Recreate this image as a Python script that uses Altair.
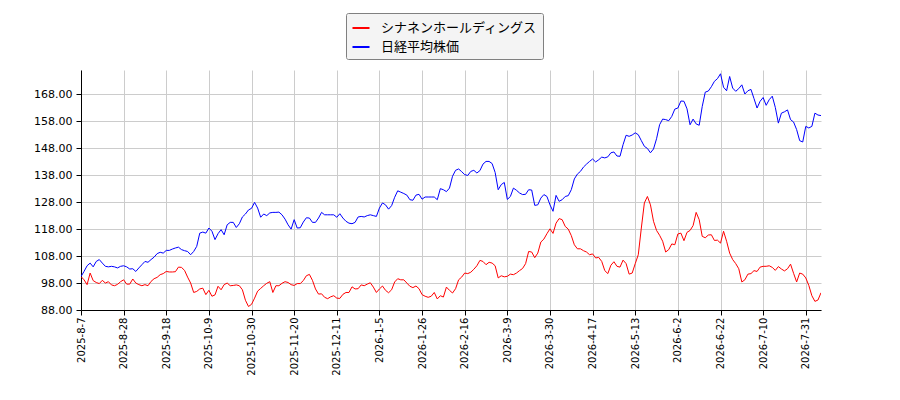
import altair as alt
import pandas as pd

# -----------------------------
# DATA
# -----------------------------
series_names = ["シナネンホールディングス", "日経平均株価"]
series_colors = ["#ff0000", "#0000ff"]

tick_labels = [
    "2025-8-7", "2025-8-28", "2025-9-18", "2025-10-9", "2025-10-30",
    "2025-11-20", "2025-12-11", "2026-1-5", "2026-1-26", "2026-2-16",
    "2026-3-9", "2026-3-30", "2026-4-17", "2026-5-13", "2026-6-2",
    "2026-6-22", "2026-7-10", "2026-7-31",
]
label_step = 14  # trading days between tick labels

y_ticks = [88, 98, 108, 118, 128, 138, 148, 158, 168]

stock = [
    100.4, 99.2, 97.4, 101.7, 98.9, 98.2, 97.8, 99.0, 98.0, 98.5,
    97.3, 97.0, 97.5, 98.5, 99.2, 97.6, 97.6, 99.5, 98.0, 97.4,
    97.0, 97.4, 97.0, 98.6, 99.6, 100.1, 101.1, 101.5, 102.3, 102.1,
    102.1, 102.2, 103.9, 103.8, 102.7, 100.2, 98.0, 94.5, 94.9, 95.8,
    96.1, 93.7, 95.3, 93.1, 93.6, 96.8, 95.5, 97.4, 98.0, 97.0,
    97.1, 97.3, 97.0, 95.5, 91.6, 89.3, 90.1, 92.4, 95.0, 96.0,
    97.0, 97.9, 98.5, 94.5, 97.0, 97.0, 97.9, 98.5, 98.2, 97.4,
    97.1, 97.8, 97.8, 98.9, 100.7, 101.2, 99.0, 95.8, 93.9, 94.0,
    92.7, 92.2, 92.9, 93.3, 92.4, 92.3, 93.8, 94.5, 94.5, 96.6,
    95.8, 95.9, 97.3, 97.0, 97.6, 98.1, 96.5, 94.5, 95.8, 96.9,
    95.3, 94.4, 95.5, 98.4, 99.6, 99.2, 99.2, 98.0, 96.8, 96.3,
    96.9, 95.9, 93.7, 93.1, 92.7, 93.1, 94.5, 92.1, 93.3, 92.8,
    96.5, 95.3, 94.3, 95.9, 99.2, 100.2, 101.7, 101.5, 102.0, 103.1,
    104.4, 106.4, 106.0, 104.8, 105.7, 105.4, 104.4, 99.9, 100.7, 100.3,
    100.5, 101.3, 101.1, 101.7, 102.6, 103.4, 105.2, 109.7, 109.5, 107.4,
    109.1, 113.2, 114.3, 116.3, 118.1, 116.4, 120.2, 121.9, 121.5, 119.0,
    118.0, 115.6, 112.2, 110.7, 110.7, 110.0, 109.5, 108.5, 108.8, 107.3,
    107.5, 106.0, 102.6, 101.5, 104.6, 105.9, 104.2, 103.9, 106.5, 105.2,
    101.3, 101.7, 105.2, 108.5, 118.4, 127.7, 130.1, 127.0, 120.9, 117.5,
    115.7, 113.5, 109.5, 110.4, 112.5, 112.2, 116.2, 116.5, 113.7, 116.8,
    117.5, 119.3, 124.2, 121.5, 115.3, 114.8, 115.8, 115.9, 113.8, 113.9,
    112.8, 117.2, 113.5, 109.1, 106.7, 105.2, 103.3, 98.4, 99.2, 101.3,
    101.5, 102.6, 102.3, 103.9, 104.2, 104.2, 104.4, 103.8, 102.7, 104.1,
    103.2, 102.5, 103.3, 105.0, 101.6, 98.4, 101.7, 101.3, 99.9, 97.1,
    93.3, 91.2, 91.7, 94.4,
]

nikkei = [
    100.4, 102.3, 104.4, 105.4, 104.0, 106.0, 106.7, 105.4, 104.2, 104.0,
    104.2, 104.0, 103.6, 104.2, 104.4, 104.0, 103.2, 103.3, 102.3, 103.6,
    104.8, 106.0, 105.7, 106.7, 107.6, 108.9, 109.4, 109.1, 110.1, 110.1,
    110.6, 111.0, 111.3, 110.4, 110.0, 109.7, 108.5, 109.7, 111.6, 116.5,
    116.9, 116.5, 118.4, 117.2, 114.1, 116.3, 117.8, 115.9, 119.6, 120.5,
    120.5, 118.6, 120.0, 122.5, 123.6, 125.1, 125.7, 127.9, 125.8, 122.4,
    123.6, 123.0, 124.0, 124.2, 124.2, 124.3, 123.3, 121.7, 119.6, 118.0,
    121.5, 118.4, 118.5, 120.6, 122.2, 122.1, 120.5, 120.5, 122.1, 124.2,
    123.3, 123.3, 123.3, 123.3, 122.4, 123.7, 122.1, 120.9, 120.2, 120.0,
    120.5, 122.5, 122.7, 122.5, 123.0, 123.3, 123.0, 122.7, 125.8, 127.7,
    127.0, 125.4, 126.7, 129.8, 132.2, 131.7, 131.2, 130.6, 128.9, 128.7,
    130.6, 130.9, 129.1, 129.9, 129.9, 129.9, 129.9, 128.9, 133.0, 132.6,
    131.9, 133.2, 137.6, 139.8, 140.3, 139.3, 138.2, 137.9, 139.4, 139.8,
    138.8, 139.7, 142.1, 143.1, 143.1, 142.3, 139.0, 132.6, 134.5, 135.3,
    129.0, 130.1, 133.2, 132.4, 131.4, 130.8, 130.9, 132.6, 132.5, 126.8,
    127.0, 129.5, 130.8, 130.1, 127.0, 124.6, 130.5, 128.3, 128.9, 130.1,
    130.4, 132.6, 136.6, 138.4, 139.4, 141.0, 142.1, 143.1, 144.0, 142.9,
    143.7, 144.7, 144.4, 144.8, 146.3, 146.6, 145.1, 145.0, 149.3, 152.8,
    152.4, 152.9, 153.7, 153.0, 150.8, 148.7, 147.9, 146.3, 147.7, 151.5,
    156.7, 158.8, 158.6, 158.2, 159.8, 162.5, 162.9, 165.5, 165.4, 162.6,
    156.7, 158.8, 157.0, 156.5, 163.5, 168.8, 169.2, 170.8, 172.8, 173.8,
    175.6, 170.6, 169.3, 174.6, 170.3, 169.1, 170.1, 171.5, 168.1, 169.3,
    169.8, 166.4, 162.9, 165.4, 166.8, 163.9, 166.0, 167.3, 163.1, 157.3,
    161.0, 161.5, 162.2, 158.6, 157.7, 154.9, 150.8, 150.3, 156.1, 155.5,
    156.1, 161.0, 160.3, 160.1,
]

df = pd.concat([
    pd.DataFrame({"idx": range(len(stock)), "value": stock, "series": series_names[0]}),
    pd.DataFrame({"idx": range(len(nikkei)), "value": nikkei, "series": series_names[1]}),
])

label_expr = (
    "[" + ",".join(f"'{t}'" for t in tick_labels) + "]"
    + f"[round(datum.value / {label_step})]"
)
x_ticks = [i * label_step for i in range(len(tick_labels))]

# -----------------------------
# CHART
# -----------------------------
chart = (
    alt.Chart(df)
    .mark_line(strokeWidth=1, clip=True)
    .encode(
        x=alt.X(
            "idx:Q",
            scale=alt.Scale(domain=[0, len(stock) - 1], nice=False, zero=False),
            axis=alt.Axis(
                values=x_ticks, labelExpr=label_expr, labelAngle=270,
                labelFontSize=10, labelPadding=2, title=None,
            ),
        ),
        y=alt.Y(
            "value:Q",
            scale=alt.Scale(domain=[88, 177], nice=False, zero=False),
            axis=alt.Axis(values=y_ticks, format=".2f", labelFontSize=11,
                          labelPadding=4, title=None),
        ),
        color=alt.Color(
            "series:N",
            scale=alt.Scale(domain=series_names, range=series_colors),
            legend=alt.Legend(
                title=None, orient="none", legendX=265, legendY=-57,
                direction="vertical", symbolType="stroke", symbolSize=290,
                symbolStrokeWidth=2, labelFont="Noto Sans CJK JP",
                labelFontSize=13, labelOffset=10, rowPadding=2, padding=5,
                fillColor="#f4f4f4", strokeColor="#808080", cornerRadius=2,
            ),
        ),
    )
    .properties(
        width=740, height=240,
        autosize=alt.AutoSizeParams(type="none"),
        padding={"left": 73, "top": 62, "right": 70, "bottom": 82},
    )
    .configure_view(strokeWidth=0)
    .configure_axis(
        labelFont="DejaVu Sans", labelColor="#000000",
        domainColor="#000000", tickColor="#000000", tickSize=5,
        gridColor="#cccccc", gridWidth=1,
    )
)

chart.save("out.html", embed_options={"renderer": "svg", "actions": False})
